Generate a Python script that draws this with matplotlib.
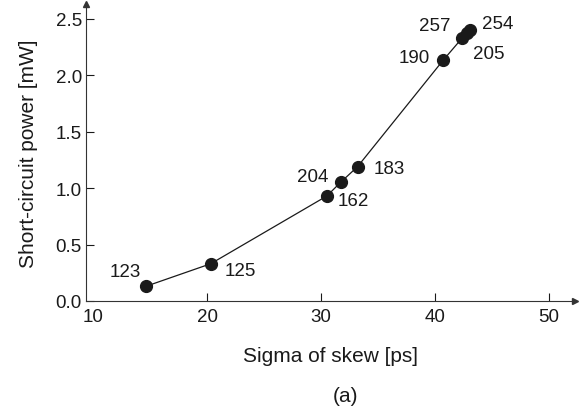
import matplotlib
matplotlib.use("Agg")
import matplotlib.pyplot as plt

plt.rcParams['font.family'] = ['Liberation Sans', 'DejaVu Sans']

labels = ["123", "125", "162", "204", "183", "190", "205", "257", "254"]
sigma = [14.6, 20.3, 30.5, 31.7, 33.2, 40.7, 42.4, 42.8, 43.1]
power = [0.13, 0.33, 0.93, 1.05, 1.19, 2.13, 2.33, 2.37, 2.40]
label_offsets = [(-15, 11), (21, -5), (19, -3), (-20, 4), (23, -1), (-21, 2), (19, -11), (-23, 6), (20, 5)]

xticks = [10, 20, 30, 40, 50]
yticks = [0.0, 0.5, 1.0, 1.5, 2.0, 2.5]

fig = plt.figure(figsize=(5.87, 4.14), dpi=100)
ax = fig.add_axes([86/587, 1-302/414, (575-86)/587, (302-5)/414])

ax.plot(sigma, power, color='#1a1a1a', lw=0.9, marker='o', ms=8.5,
        mfc='#1a1a1a', mec='#1a1a1a', zorder=3)
for lab, x, y, off in zip(labels, sigma, power, label_offsets):
    ax.annotate(lab, (x, y), xytext=off, textcoords='offset points',
                ha='center', va='center', fontsize=13.5, color='#1a1a1a')

ax.set_xlim(9.34, 52.3)
ax.set_ylim(0, 2.63)
ax.set_xticks(xticks)
ax.set_yticks(yticks)
ax.set_xticklabels([str(t) for t in xticks])
ax.set_yticklabels([f"{t:.1f}" for t in yticks])
ax.tick_params(direction='in', length=5.5, width=0.8, labelsize=13.5,
               colors='#1a1a1a', pad=3)
ax.tick_params(axis='x', pad=5)
ax.xaxis.get_major_ticks()[0].tick1line.set_visible(False)
for s in ['top', 'right']:
    ax.spines[s].set_visible(False)
for s in ['left', 'bottom']:
    ax.spines[s].set_linewidth(0.8)
    ax.spines[s].set_color('#333333')
ax.spines['bottom'].set_bounds(9.34, 52.0)
ax.spines['left'].set_bounds(0, 2.6)
ax.plot(1, 0, marker='>', ms=4, color='#333333', transform=ax.transAxes, clip_on=False)
ax.plot(0, 1, marker='^', ms=4, color='#333333', transform=ax.transAxes, clip_on=False)

ax.set_xlabel("Sigma of skew [ps]", fontsize=15, color='#1a1a1a', labelpad=15)
ax.set_ylabel("Short-circuit power [mW]", fontsize=15, color='#1a1a1a', labelpad=13)
fig.text(345/587, 1-397/414, "(a)", ha='center', va='center', fontsize=15, color='#1a1a1a')

fig.savefig("out.png", dpi=100)
